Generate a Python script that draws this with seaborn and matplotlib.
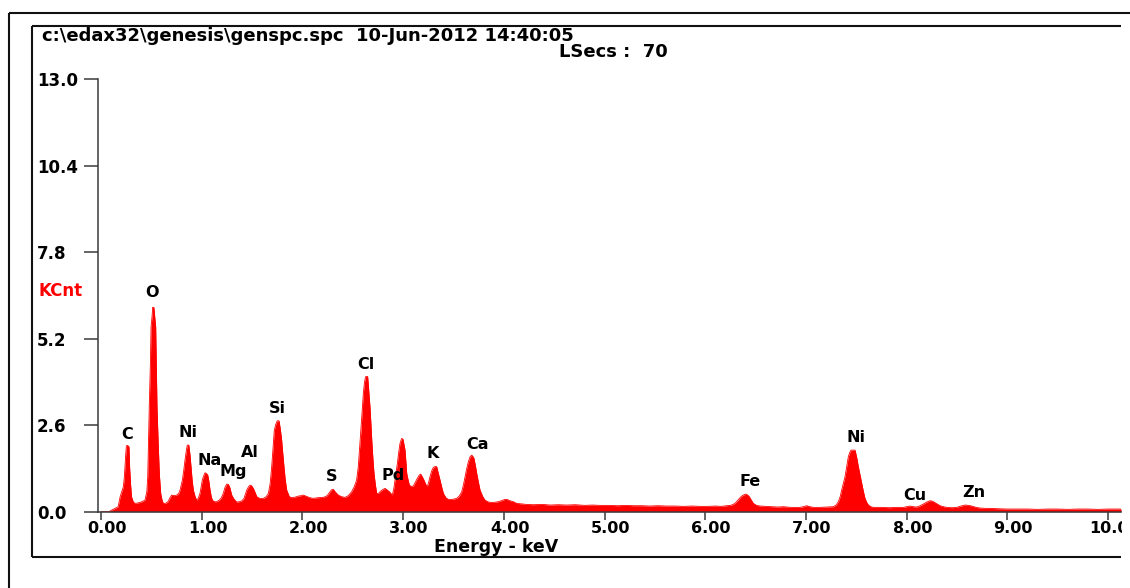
import matplotlib
matplotlib.use("Agg")
import matplotlib.pyplot as plt
import seaborn as sns
from matplotlib.lines import Line2D
from matplotlib.patches import Rectangle
from matplotlib.transforms import ScaledTranslation

# EDS spectrum: energy (keV) vs. counts (KCnt)
energy_kev = [
    0.00, 0.08, 0.10, 0.14, 0.17, 0.19, 0.222, 0.232, 0.245, 0.252, 0.265, 0.278, 0.284, 0.293,
    0.303, 0.320, 0.336, 0.36, 0.39, 0.42, 0.437, 0.455, 0.464, 0.472, 0.480, 0.490, 0.497, 0.508,
    0.513, 0.525, 0.535, 0.543, 0.550, 0.556, 0.569, 0.580, 0.593, 0.606, 0.619, 0.64, 0.665, 0.685,
    0.702, 0.725, 0.752, 0.772, 0.785, 0.808, 0.822, 0.834, 0.848, 0.857, 0.872, 0.884, 0.894, 0.905,
    0.917, 0.935, 0.950, 0.965, 0.983, 0.995, 1.006, 1.020, 1.033, 1.046, 1.060, 1.072, 1.083, 1.095,
    1.106, 1.125, 1.149, 1.175, 1.195, 1.214, 1.230, 1.248, 1.265, 1.280, 1.298, 1.320, 1.347, 1.375,
    1.400, 1.420, 1.447, 1.465, 1.480, 1.495, 1.513, 1.530, 1.547, 1.575, 1.612, 1.640, 1.662, 1.680,
    1.695, 1.708, 1.721, 1.735, 1.750, 1.768, 1.782, 1.794, 1.805, 1.817, 1.830, 1.844, 1.870, 1.894,
    1.93, 1.96, 1.985, 2.009, 2.04, 2.075, 2.108, 2.15, 2.208, 2.245, 2.274, 2.290, 2.307, 2.325,
    2.356, 2.39, 2.423, 2.455, 2.489, 2.515, 2.538, 2.555, 2.568, 2.582, 2.593, 2.605, 2.617, 2.628,
    2.648, 2.660, 2.671, 2.680, 2.688, 2.700, 2.711, 2.725, 2.738, 2.755, 2.771, 2.795, 2.820, 2.840,
    2.863, 2.893, 2.908, 2.920, 2.943, 2.957, 2.969, 2.985, 2.999, 3.019, 3.028, 3.036, 3.050, 3.062,
    3.080, 3.101, 3.120, 3.141, 3.160, 3.175, 3.190, 3.207, 3.225, 3.240, 3.255, 3.267, 3.283, 3.300,
    3.320, 3.334, 3.350, 3.367, 3.385, 3.400, 3.425, 3.449, 3.49, 3.532, 3.560, 3.582, 3.600, 3.615,
    3.632, 3.648, 3.665, 3.681, 3.693, 3.704, 3.718, 3.731, 3.748, 3.764, 3.790, 3.813, 3.840, 3.863,
    3.905, 3.946, 3.985, 4.010, 4.029, 4.060, 4.095, 4.128, 4.161, 4.22, 4.293, 4.38, 4.46, 4.54,
    4.625, 4.71, 4.80, 4.88, 4.955, 5.05, 5.13, 5.21, 5.286, 5.37, 5.45, 5.53, 5.618, 5.70,
    5.78, 5.87, 5.948, 6.03, 6.10, 6.16, 6.213, 6.250, 6.279, 6.305, 6.329, 6.355, 6.378, 6.405,
    6.422, 6.438, 6.458, 6.478, 6.510, 6.544, 6.60, 6.66, 6.72, 6.776, 6.85, 6.941, 6.975, 7.008,
    7.040, 7.074, 7.14, 7.21, 7.272, 7.300, 7.322, 7.340, 7.355, 7.372, 7.388, 7.405, 7.421, 7.435,
    7.448, 7.488, 7.505, 7.521, 7.538, 7.554, 7.570, 7.587, 7.604, 7.621, 7.645, 7.670, 7.75, 7.83,
    7.90, 7.968, 8.00, 8.034, 8.065, 8.100, 8.135, 8.166, 8.200, 8.232, 8.252, 8.272, 8.300, 8.332,
    8.365, 8.398, 8.45, 8.497, 8.540, 8.580, 8.615, 8.646, 8.690, 8.729, 8.78, 8.828, 8.90, 9.00,
    9.10, 9.20, 9.30, 9.40, 9.50, 9.60, 9.70, 9.80, 9.90, 10.00, 10.13,
]
counts_kcnt = [
    0.00, 0.00, 0.04, 0.10, 0.15, 0.45, 0.75, 1.05, 1.70, 1.98, 1.99, 1.95, 1.35, 0.85,
    0.45, 0.30, 0.25, 0.26, 0.28, 0.32, 0.35, 0.60, 1.05, 2.20, 3.26, 4.40, 5.56, 5.90,
    6.14, 6.14, 5.80, 5.56, 4.30, 3.15, 1.95, 1.10, 0.55, 0.35, 0.25, 0.25, 0.30, 0.42,
    0.50, 0.48, 0.50, 0.55, 0.65, 0.95, 1.25, 1.55, 1.85, 2.00, 2.00, 1.70, 1.35, 0.95,
    0.65, 0.45, 0.35, 0.40, 0.55, 0.75, 0.95, 1.08, 1.17, 1.15, 1.10, 0.90, 0.65, 0.45,
    0.35, 0.30, 0.30, 0.35, 0.42, 0.55, 0.72, 0.83, 0.82, 0.72, 0.50, 0.38, 0.29, 0.30,
    0.33, 0.40, 0.65, 0.75, 0.80, 0.78, 0.70, 0.58, 0.45, 0.40, 0.40, 0.45, 0.55, 0.85,
    1.35, 1.90, 2.45, 2.62, 2.73, 2.73, 2.45, 2.15, 1.75, 1.35, 0.95, 0.65, 0.45, 0.42,
    0.44, 0.47, 0.48, 0.50, 0.46, 0.42, 0.40, 0.42, 0.43, 0.48, 0.60, 0.66, 0.67, 0.60,
    0.50, 0.45, 0.43, 0.48, 0.60, 0.75, 0.95, 1.35, 1.90, 2.45, 3.00, 3.56, 3.90, 4.06,
    4.06, 3.60, 3.15, 2.65, 2.15, 1.60, 1.15, 0.80, 0.55, 0.55, 0.60, 0.66, 0.70, 0.66,
    0.60, 0.50, 0.70, 0.95, 1.45, 1.80, 2.05, 2.20, 2.18, 1.85, 1.50, 1.15, 0.95, 0.80,
    0.76, 0.77, 0.88, 1.00, 1.10, 1.13, 1.05, 0.95, 0.82, 0.75, 0.90, 1.05, 1.22, 1.33,
    1.36, 1.35, 1.15, 0.95, 0.72, 0.55, 0.42, 0.37, 0.37, 0.40, 0.48, 0.60, 0.82, 1.05,
    1.30, 1.50, 1.65, 1.70, 1.66, 1.60, 1.38, 1.15, 0.88, 0.65, 0.46, 0.35, 0.30, 0.28,
    0.28, 0.30, 0.34, 0.37, 0.37, 0.33, 0.30, 0.25, 0.24, 0.22, 0.21, 0.22, 0.20, 0.21,
    0.20, 0.21, 0.19, 0.20, 0.19, 0.19, 0.18, 0.19, 0.18, 0.18, 0.17, 0.18, 0.17, 0.17,
    0.16, 0.17, 0.16, 0.16, 0.17, 0.16, 0.18, 0.19, 0.22, 0.28, 0.36, 0.45, 0.50, 0.53,
    0.50, 0.45, 0.35, 0.25, 0.19, 0.17, 0.16, 0.15, 0.14, 0.15, 0.13, 0.13, 0.15, 0.18,
    0.15, 0.13, 0.13, 0.14, 0.15, 0.20, 0.30, 0.45, 0.65, 0.85, 1.05, 1.35, 1.65, 1.78,
    1.85, 1.85, 1.62, 1.35, 1.10, 0.85, 0.62, 0.40, 0.28, 0.20, 0.15, 0.13, 0.13, 0.12,
    0.13, 0.13, 0.15, 0.17, 0.15, 0.14, 0.18, 0.23, 0.29, 0.33, 0.32, 0.29, 0.24, 0.18,
    0.15, 0.13, 0.12, 0.13, 0.17, 0.20, 0.19, 0.17, 0.13, 0.11, 0.10, 0.10, 0.09, 0.08,
    0.08, 0.08, 0.07, 0.08, 0.08, 0.07, 0.08, 0.08, 0.07, 0.08, 0.08,
]

# Peak identifications and where their labels sit (keV, KCnt)
peak_labels = ["C", "O", "Ni", "Na", "Mg", "Al", "Si", "S", "Cl", "Pd", "K", "Ca",
               "Fe", "Ni", "Cu", "Zn"]
label_kev = [0.255, 0.509, 0.861, 1.082, 1.314, 1.480, 1.755, 2.291, 2.632, 2.897, 3.294,
             3.737, 6.445, 7.498, 8.083, 8.669]
label_kcnt = [2.33, 6.58, 2.39, 1.55, 1.20, 1.77, 3.09, 1.07, 4.43, 1.10, 1.75, 2.03,
              0.92, 2.24, 0.50, 0.58]

y_ticks = [0.0, 2.6, 5.2, 7.8, 10.4, 13.0]
y_tick_labels = ["0.0", "2.6", "5.2", "7.8", "10.4", "13.0"]
x_ticks = [0, 1, 2, 3, 4, 5, 6, 7, 8, 9, 10]
x_tick_labels = ["0.00", "1.00", "2.00", "3.00", "4.00", "5.00", "6.00", "7.00", "8.00",
                 "9.00", "10.00"]

header_text = "c:\\edax32\\genesis\\genspc.spc  10-Jun-2012 14:40:05"
live_time_text = "LSecs :  70"

RED = "#ff0000"
AXIS_COLOR = "#3a3a3a"

sns.set_theme(style="white")
plt.rcParams["font.family"] = ["DejaVu Sans"]
plt.rcParams["font.weight"] = "bold"

W, H = 1130, 588
fig = plt.figure(figsize=(W / 100, H / 100), dpi=100)
fig.patch.set_facecolor("white")


def fx(px):
    return px / W


def fy(py):
    return 1 - py / H


ax = fig.add_axes([fx(97.7), fy(511.7), fx(1121) - fx(97.7), fy(79) - fy(511.7)])
ax.set_facecolor("white")

sns.lineplot(x=energy_kev, y=counts_kcnt, ax=ax, color=RED, lw=0.6,
             sort=False, estimator=None)
ax.fill_between(energy_kev, 0, counts_kcnt, color=RED, lw=0)

ax.set_xlim(-0.0328, 10.129)
ax.set_ylim(0, 13)

for side in ("top", "right"):
    ax.spines[side].set_visible(False)
for side in ("left", "bottom"):
    ax.spines[side].set_color(AXIS_COLOR)
    ax.spines[side].set_linewidth(1.1)

ax.set_yticks(y_ticks)
ax.set_yticklabels(y_tick_labels)
ax.set_xticks(x_ticks)
ax.set_xticklabels(x_tick_labels)
ax.tick_params(axis="y", direction="out", length=10.4, width=1.1, color=AXIS_COLOR,
               pad=33.3, labelsize=12, labelcolor="black", left=True)
ax.tick_params(axis="x", direction="out", length=6, width=1.1, color=AXIS_COLOR,
               pad=1.0, labelsize=11.5, labelcolor="black", bottom=True)
for lab in ax.get_yticklabels():
    lab.set_horizontalalignment("left")
    lab.set_fontweight("bold")
shift = ScaledTranslation(6 / 100, 0, fig.dpi_scale_trans)
for lab in ax.get_xticklabels():
    lab.set_transform(lab.get_transform() + shift)
    lab.set_fontweight("bold")
ax.set_xlabel("")
ax.set_ylabel("")

for name, e, c in zip(peak_labels, label_kev, label_kcnt):
    ax.text(e, c, name, ha="center", va="center", fontsize=11.5, fontweight="bold",
            color="black", zorder=5)

# Captions around the plot area
fig.text(fx(42), fy(36), header_text, ha="left", va="center", fontsize=13,
         fontweight="bold", color="black")
fig.text(fx(668), fy(52), live_time_text, ha="right", va="center", fontsize=13,
         fontweight="bold", color="black")
fig.text(fx(38), fy(291), "KCnt", ha="left", va="center", fontsize=12,
         fontweight="bold", color=RED)
fig.text(fx(496), fy(547), "Energy - keV", ha="center", va="center", fontsize=12.5,
         fontweight="bold", color="black")

# Inner panel frame and the outer page frame; the panel runs off the right edge
fig.add_artist(Rectangle((fx(1121.5), 0), 1 - fx(1121.5), fy(20), transform=fig.transFigure,
                         facecolor="white", edgecolor="none", zorder=5))
frame_kw = dict(color="#111111", lw=1.5, zorder=6, solid_capstyle="butt")
fig.add_artist(Line2D([fx(32), fx(1121)], [fy(25.7), fy(25.7)], **frame_kw))
fig.add_artist(Line2D([fx(32), fx(1121)], [fy(557), fy(557)], **frame_kw))
fig.add_artist(Line2D([fx(32), fx(32)], [fy(25.7), fy(557)], **frame_kw))
fig.add_artist(Line2D([fx(8.7), fx(1130)], [fy(12.7), fy(12.7)], **frame_kw))
fig.add_artist(Line2D([fx(8.7), fx(8.7)], [fy(12.7), fy(588)], **frame_kw))

fig.savefig("out.png", dpi=100, facecolor="white")
